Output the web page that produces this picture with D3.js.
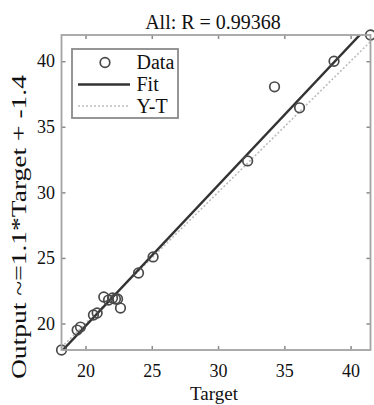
<!DOCTYPE html>
<html>
<head>
<meta charset="utf-8">
<script src="https://cdn.jsdelivr.net/npm/d3@7"></script>
<style>
  html, body { margin: 0; padding: 0; background: #fff; }
  svg { display: block; font-family: "Liberation Serif", "Times New Roman", serif; }
</style>
</head>
<body>
<svg id="chart" width="374" height="405"></svg>
<script>
// ---- data ----
const targets = [18.19, 19.37, 19.62, 20.60, 20.88, 21.38, 21.74, 22.04, 22.26, 22.42, 22.64, 24.00, 25.10, 32.23, 34.26, 36.15, 38.75, 41.50];
const outputs = [17.98, 19.50, 19.73, 20.65, 20.80, 22.02, 21.79, 21.95, 21.87, 21.87, 21.18, 23.85, 25.08, 32.40, 38.05, 36.45, 40.00, 42.00];
const xTicks = [20, 25, 30, 35, 40];
const yTicks = [20, 25, 30, 35, 40];
const legendLabels = ["Data", "Fit", "Y-T"];
const titleText = "All: R = 0.99368";
const xLabelText = "Target";
const yLabelText = "Output ~=1.1*Target + -1.4";

// ---- layout ----
const svg = d3.select("#chart");
const pLeft = 61.5, pRight = 370.5, pTop = 35, pBottom = 350;

const x = d3.scaleLinear().domain(d3.extent(targets)).range([pLeft, pRight]);
const y = d3.scaleLinear().domain(d3.extent(outputs)).range([pBottom, pTop]);

svg.append("rect").attr("width", 374).attr("height", 405).attr("fill", "#fff");

svg.append("clipPath").attr("id", "plotclip")
  .append("rect").attr("x", pLeft).attr("y", pTop)
  .attr("width", pRight - pLeft).attr("height", pBottom - pTop);

// least-squares fit of outputs on targets
const mt = d3.mean(targets), mo = d3.mean(outputs);
const sxy = d3.sum(targets, (t, i) => (t - mt) * (outputs[i] - mo));
const sxx = d3.sum(targets, t => (t - mt) * (t - mt));
const slope = sxy / sxx, intercept = mo - slope * mt;
const xd = x.domain();

const plot = svg.append("g").attr("clip-path", "url(#plotclip)");

// Y = T line
plot.append("line")
  .attr("x1", x(xd[0])).attr("y1", y(xd[0]))
  .attr("x2", x(xd[1])).attr("y2", y(xd[1]))
  .attr("stroke", "#bdbdbd").attr("stroke-width", 1.6)
  .attr("stroke-dasharray", "2,2");

// Fit line
plot.append("line")
  .attr("x1", x(xd[0])).attr("y1", y(slope * xd[0] + intercept))
  .attr("x2", x(xd[1])).attr("y2", y(slope * xd[1] + intercept))
  .attr("stroke", "#333").attr("stroke-width", 2.4);

// Data circles
svg.append("g").selectAll("circle").data(targets).join("circle")
  .attr("cx", d => x(d))
  .attr("cy", (d, i) => y(outputs[i]))
  .attr("r", 4.8)
  .attr("fill", "none")
  .attr("stroke", "#4a4a4a")
  .attr("stroke-width", 1.7);

// Axes (inward ticks)
const tickLen = 4;
function styleAxis(g) {
  g.select(".domain").remove();
  g.selectAll(".tick line").attr("stroke", "#8a8a8a").attr("stroke-width", 1.5);
  g.selectAll(".tick text").attr("fill", "#111").style("font-size", "18px")
    .style("font-family", "'Liberation Serif', 'Times New Roman', serif");
}
svg.append("g").attr("transform", `translate(0,${pBottom})`)
  .call(d3.axisBottom(x).tickValues(xTicks).tickSize(-tickLen).tickPadding(14.2).tickFormat(d3.format("d")))
  .call(styleAxis);
svg.append("g").attr("transform", `translate(0,${pTop})`)
  .call(d3.axisTop(x).tickValues(xTicks).tickSize(-tickLen).tickFormat(""))
  .call(styleAxis);
svg.append("g").attr("transform", `translate(${pLeft},0)`)
  .call(d3.axisLeft(y).tickValues(yTicks).tickSize(-tickLen).tickPadding(6.5).tickFormat(d3.format("d")))
  .call(styleAxis);
svg.append("g").attr("transform", `translate(${pRight},0)`)
  .call(d3.axisRight(y).tickValues(yTicks).tickSize(-tickLen).tickFormat(""))
  .call(styleAxis);

// Box
svg.append("rect")
  .attr("x", pLeft).attr("y", pTop)
  .attr("width", pRight - pLeft).attr("height", pBottom - pTop)
  .attr("fill", "none").attr("stroke", "#a3a3a3").attr("stroke-width", 1.8);

// Title and labels
svg.append("text").attr("x", 213).attr("y", 29)
  .attr("text-anchor", "middle").attr("fill", "#111")
  .style("font-size", "20px").text(titleText);
svg.append("text").attr("x", 214).attr("y", 400)
  .attr("text-anchor", "middle").attr("fill", "#111")
  .style("font-size", "19px").text(xLabelText);
svg.append("text")
  .attr("transform", "translate(26,227) rotate(-90)")
  .attr("text-anchor", "middle").attr("fill", "#111")
  .attr("textLength", 304).attr("lengthAdjust", "spacingAndGlyphs")
  .style("font-size", "21px").text(yLabelText);

// Legend
const lg = svg.append("g");
lg.append("rect").attr("x", 72).attr("y", 49).attr("width", 106).attr("height", 69)
  .attr("fill", "#fff").attr("stroke", "#8a8a8a").attr("stroke-width", 1.8);
const rows = [62.5, 84.5, 106];
lg.append("circle").attr("cx", 105).attr("cy", rows[0]).attr("r", 4.8)
  .attr("fill", "none").attr("stroke", "#4a4a4a").attr("stroke-width", 1.7);
lg.append("line").attr("x1", 78).attr("x2", 130).attr("y1", rows[1]).attr("y2", rows[1])
  .attr("stroke", "#333").attr("stroke-width", 2.4);
lg.append("line").attr("x1", 78).attr("x2", 130).attr("y1", rows[2]).attr("y2", rows[2])
  .attr("stroke", "#bdbdbd").attr("stroke-width", 1.6).attr("stroke-dasharray", "2,2");
lg.selectAll("text.leg").data(legendLabels).join("text").attr("class", "leg")
  .attr("x", 136.5).attr("y", (d, i) => rows[i] + 6.8)
  .attr("fill", "#111").style("font-size", "20px").text(d => d);
</script>
</body>
</html>
